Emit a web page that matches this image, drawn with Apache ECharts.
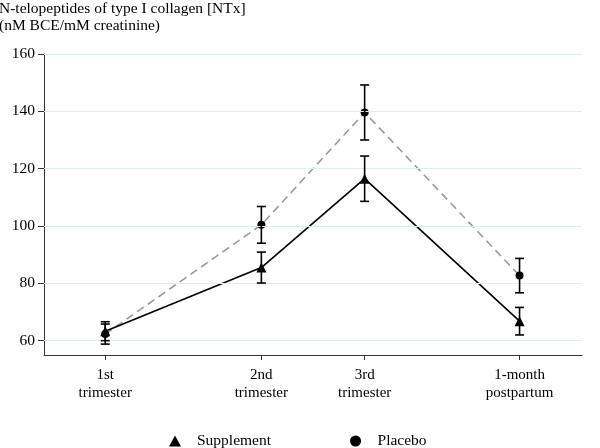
<!DOCTYPE html>
<html>
<head>
<meta charset="utf-8">
<script src="https://cdn.jsdelivr.net/npm/echarts@6/dist/echarts.min.js"></script>
<style>html,body{margin:0;padding:0;background:#fff}#c{width:600px;height:448px}</style>
</head>
<body>
<div id="c"></div>
<script>
var categories = ['1st\ntrimester', '2nd\ntrimester', '3rd\ntrimester', '1-month\npostpartum'];
var xPositions = [13, 26, 34.6, 47.5];
var supplementMean = [63.3, 85.5, 116.5, 66.8];
var supplementErr = [3.3, 5.4, 7.9, 4.8];
var placeboMean = [62.3, 100.4, 139.6, 82.7];
var placeboErr = [3.5, 6.4, 9.6, 6.0];
var yTicks = [60, 80, 100, 120, 140, 160];

var FONT = '"Liberation Serif", "DejaVu Serif", serif';

function pts(means) { return xPositions.map(function (x, i) { return [x, means[i]]; }); }
function errs(means, e) { return xPositions.map(function (x, i) { return [x, means[i] - e[i], means[i] + e[i]]; }); }

function errRender(params, api) {
  var x = api.value(0);
  var lo = api.coord([x, api.value(1)]);
  var hi = api.coord([x, api.value(2)]);
  var w = 4.5;
  var st = { stroke: '#000', lineWidth: 1.6 };
  return {
    type: 'group',
    children: [
      { type: 'line', shape: { x1: lo[0], y1: lo[1], x2: hi[0], y2: hi[1] }, style: st },
      { type: 'line', shape: { x1: lo[0] - w, y1: lo[1], x2: lo[0] + w, y2: lo[1] }, style: st },
      { type: 'line', shape: { x1: hi[0] - w, y1: hi[1], x2: hi[0] + w, y2: hi[1] }, style: st }
    ]
  };
}

var chart = echarts.init(document.getElementById('c'), null, { renderer: 'canvas' });
chart.setOption({
  animation: false,
  backgroundColor: '#fff',
  textStyle: { fontFamily: FONT, color: '#000' },
  title: {
    text: 'N-telopeptides of type I collagen [NTx]\n(nM BCE/mM creatinine)',
    left: -1, top: 0, padding: 0,
    textStyle: { fontFamily: FONT, fontSize: 15.5, fontWeight: 'normal', color: '#000', lineHeight: 17 }
  },
  legend: {
    top: 433, left: 169, padding: 0,
    itemGap: 79,
    itemWidth: 12, itemHeight: 11,
    textStyle: { fontFamily: FONT, fontSize: 15.5, color: '#000', padding: [0, 0, 0, 11] },
    data: [
      { name: 'Supplement', icon: 'triangle', itemStyle: { color: '#000' } },
      { name: 'Placebo', icon: 'circle', itemStyle: { color: '#000' } }
    ]
  },
  grid: { left: 44, right: 18, top: 54, bottom: 93, containLabel: false },
  xAxis: {
    type: 'value', min: 7.9, max: 52.7,
    axisLine: { show: true, onZero: false, lineStyle: { color: '#333', width: 1 } },
    axisTick: { show: true, customValues: xPositions, length: 5, lineStyle: { color: '#333' } },
    axisLabel: {
      customValues: xPositions,
      fontFamily: FONT, fontSize: 15, color: '#000', lineHeight: 18, margin: 11,
      formatter: function (v) {
        for (var i = 0; i < xPositions.length; i++) if (Math.abs(xPositions[i] - v) < 1e-6) return categories[i];
        return '';
      }
    },
    splitLine: { show: false }
  },
  yAxis: {
    type: 'value', min: 55, max: 160,
    axisLine: { show: true, lineStyle: { color: '#333', width: 1 } },
    axisTick: { show: true, customValues: yTicks, length: 6, lineStyle: { color: '#333' } },
    axisLabel: { customValues: yTicks, fontFamily: FONT, fontSize: 15.5, color: '#000', margin: 9 },
    splitLine: { show: false }
  },
  series: [
    {
      name: 'gridlines', type: 'line', data: [], silent: true,
      markLine: {
        silent: true, symbol: 'none', label: { show: false },
        lineStyle: { color: '#e3ecec', type: 'solid', width: 1 },
        data: yTicks.map(function (t) { return { yAxis: t }; })
      }
    },
    {
      name: 'Placebo', type: 'line', data: pts(placeboMean), z: 3,
      symbol: 'circle', symbolSize: 8,
      itemStyle: { color: '#000' },
      lineStyle: { color: '#999', width: 1.6, type: [8, 5] }
    },
    {
      name: 'Supplement', type: 'line', data: pts(supplementMean), z: 4,
      symbol: 'triangle', symbolSize: 10,
      itemStyle: { color: '#000' },
      lineStyle: { color: '#000', width: 1.6 }
    },
    { name: 'errS', type: 'custom', renderItem: errRender, data: errs(supplementMean, supplementErr), z: 5, silent: true },
    { name: 'errP', type: 'custom', renderItem: errRender, data: errs(placeboMean, placeboErr), z: 5, silent: true }
  ]
});
</script>
</body>
</html>
